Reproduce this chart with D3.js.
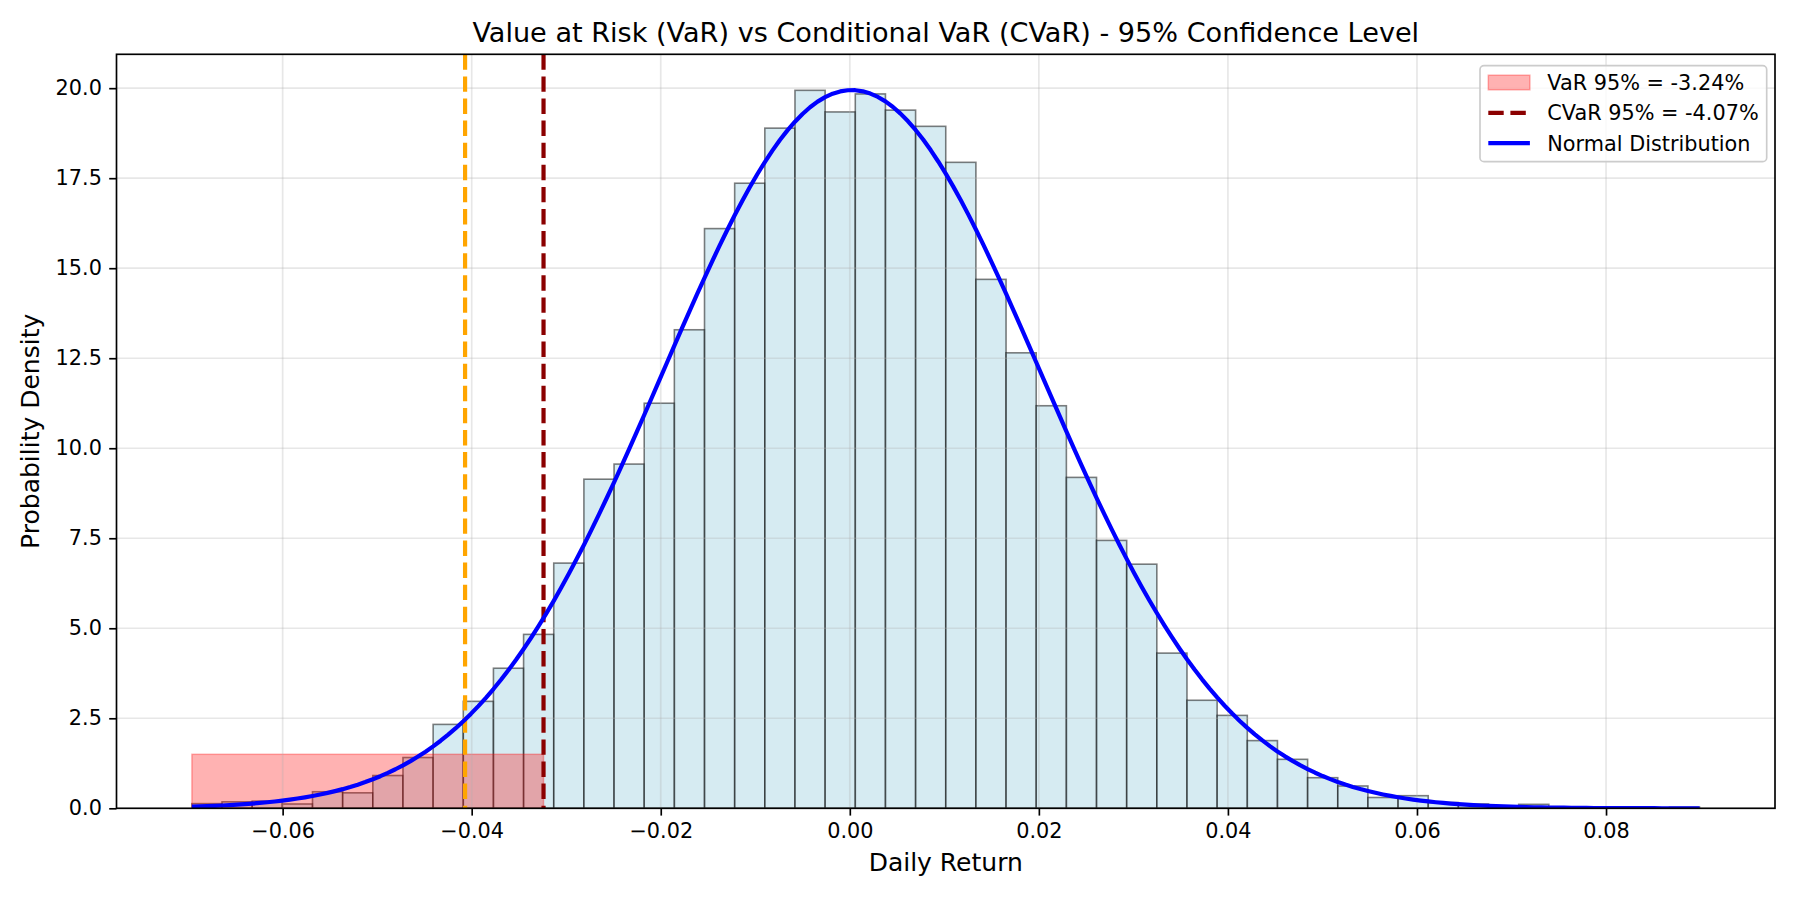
<!DOCTYPE html>
<html>
<head>
<meta charset="utf-8">
<script src="https://cdn.jsdelivr.net/npm/d3@7"></script>
<style>
  body { margin: 0; background: #ffffff; }
  svg { display: block; }
  text { font-family: "DejaVu Sans", sans-serif; fill: #000; }
</style>
</head>
<body>
<svg id="chart" width="1800" height="900"></svg>
<script>
// ---------------- data ----------------
const densityValues = [
  0.13, 0.18, 0.20, 0.12, 0.46, 0.43, 0.91, 1.41, 2.33, 2.97,
  3.89, 4.83, 6.81, 9.14, 9.56, 11.25, 13.29, 16.10, 17.36, 18.89,
  19.94, 19.34, 19.84, 19.39, 18.94, 17.94, 14.69, 12.65, 11.18, 9.19,
  7.44, 6.78, 4.31, 3.00, 2.58, 1.88, 1.36, 0.85, 0.62, 0.30,
  0.35, 0.16, 0.12, 0.06, 0.11, 0.03, 0.03, 0.00, 0.00, 0.03
];
const returnMin = -0.0696;
const returnMax = 0.0899;
const normalMean = 0.0002;
const normalStd = 0.0200;
const varLevel = -0.0324;
const cvarLevel = -0.0407;
const tailBandHeight = 1.5;
const xTickValues = [-0.06, -0.04, -0.02, 0.00, 0.02, 0.04, 0.06, 0.08];
const yTickValues = [0, 2.5, 5, 7.5, 10, 12.5, 15, 17.5, 20];
const legendLabels = ["VaR 95% = -3.24%", "CVaR 95% = -4.07%", "Normal Distribution"];
const titleText = "Value at Risk (VaR) vs Conditional VaR (CVaR) - 95% Confidence Level";
const xLabelText = "Daily Return";
const yLabelText = "Probability Density";

// ---------------- layout ----------------
const svg = d3.select("#chart");
const plot = { left: 116.5, right: 1775, top: 54.3, bottom: 808.3 };
const binCount = densityValues.length;
const binWidth = (returnMax - returnMin) / binCount;
const bins = densityValues.map((d, i) => ({
  x0: returnMin + i * binWidth,
  x1: returnMin + (i + 1) * binWidth,
  value: d
}));

const span = returnMax - returnMin;
const x = d3.scaleLinear()
  .domain([returnMin - 0.05 * span, returnMax + 0.05 * span])
  .range([plot.left, plot.right]);

// normal curve from its parameters
const curvePts = d3.range(0, 201).map(i => {
  const v = returnMin + (span * i) / 200;
  const z = (v - normalMean) / normalStd;
  return { x: v, y: Math.exp(-0.5 * z * z) / (normalStd * Math.sqrt(2 * Math.PI)) };
});
const maxY = Math.max(d3.max(densityValues), d3.max(curvePts, d => d.y));
const y = d3.scaleLinear().domain([0, 1.05 * maxY]).range([plot.bottom, plot.top]);

svg.append("rect").attr("width", 1800).attr("height", 900).attr("fill", "#ffffff");

// clip
svg.append("defs").append("clipPath").attr("id", "clip")
  .append("rect").attr("x", plot.left).attr("y", plot.top)
  .attr("width", plot.right - plot.left).attr("height", plot.bottom - plot.top);
const g = svg.append("g").attr("clip-path", "url(#clip)");

// histogram bars
g.append("g").selectAll("rect").data(bins).join("rect")
  .attr("x", d => x(d.x0))
  .attr("y", d => y(d.value))
  .attr("width", d => x(d.x1) - x(d.x0))
  .attr("height", d => y(0) - y(d.value))
  .attr("fill", "rgba(173,216,230,0.5)")
  .attr("stroke", "rgba(0,0,0,0.5)")
  .attr("stroke-width", 1.6);

// VaR tail band
g.append("rect")
  .attr("x", x(returnMin))
  .attr("y", y(tailBandHeight))
  .attr("width", x(varLevel) - x(returnMin))
  .attr("height", y(0) - y(tailBandHeight))
  .attr("fill", "rgba(255,0,0,0.3)")
  .attr("stroke", "rgba(255,0,0,0.3)")
  .attr("stroke-width", 1.5);

// grid
const grid = g.append("g").attr("stroke", "rgba(176,176,176,0.3)").attr("stroke-width", 1.67);
grid.selectAll("line.gx").data(xTickValues).join("line").attr("class", "gx")
  .attr("x1", d => x(d)).attr("x2", d => x(d))
  .attr("y1", plot.top).attr("y2", plot.bottom);
grid.selectAll("line.gy").data(yTickValues).join("line").attr("class", "gy")
  .attr("x1", plot.left).attr("x2", plot.right)
  .attr("y1", d => y(d)).attr("y2", d => y(d));

// vertical dashed lines
g.append("line")
  .attr("x1", x(cvarLevel)).attr("x2", x(cvarLevel))
  .attr("y1", plot.top).attr("y2", plot.bottom)
  .attr("stroke", "#ffa500").attr("stroke-width", 4.2)
  .attr("stroke-dasharray", "15.4,6.7");
g.append("line")
  .attr("x1", x(varLevel)).attr("x2", x(varLevel))
  .attr("y1", plot.top).attr("y2", plot.bottom)
  .attr("stroke", "#8b0000").attr("stroke-width", 4.2)
  .attr("stroke-dasharray", "15.4,6.7");

// normal curve
g.append("path").datum(curvePts)
  .attr("d", d3.line().x(d => x(d.x)).y(d => y(d.y)))
  .attr("fill", "none").attr("stroke", "#0000ff").attr("stroke-width", 4.2)
  .attr("stroke-linejoin", "round").attr("stroke-linecap", "butt");

// axes
const fmtX = v => (v < 0 ? "\u2212" : "") + Math.abs(v).toFixed(2);
const xAxis = svg.append("g").attr("transform", `translate(0,${plot.bottom})`)
  .call(d3.axisBottom(x).tickValues(xTickValues).tickFormat(fmtX).tickSize(7.3).tickPadding(7.3));
const yAxis = svg.append("g").attr("transform", `translate(${plot.left},0)`)
  .call(d3.axisLeft(y).tickValues(yTickValues).tickFormat(d3.format(".1f")).tickSize(7.3).tickPadding(7.3));
[xAxis, yAxis].forEach(a => {
  a.select(".domain").remove();
  a.selectAll(".tick line").attr("stroke", "#000").attr("stroke-width", 1.67);
  a.selectAll(".tick text").attr("font-size", "20.8px").attr("font-family", "DejaVu Sans").attr("fill", "#000");
});

// spines
svg.append("rect")
  .attr("x", plot.left).attr("y", plot.top)
  .attr("width", plot.right - plot.left).attr("height", plot.bottom - plot.top)
  .attr("fill", "none").attr("stroke", "#000").attr("stroke-width", 1.67);

// title and labels
svg.append("text").attr("x", (plot.left + plot.right) / 2).attr("y", 42)
  .attr("text-anchor", "middle").attr("font-size", "27.1px").text(titleText);
svg.append("text").attr("x", (plot.left + plot.right) / 2).attr("y", 871)
  .attr("text-anchor", "middle").attr("font-size", "25px").text(xLabelText);
svg.append("text")
  .attr("transform", `translate(39,${(plot.top + plot.bottom) / 2}) rotate(-90)`)
  .attr("text-anchor", "middle").attr("font-size", "25px").text(yLabelText);

// legend
const lg = svg.append("g");
lg.append("rect").attr("x", 1480).attr("y", 65.7).attr("width", 286.7).attr("height", 96)
  .attr("rx", 4).attr("ry", 4)
  .attr("fill", "rgba(255,255,255,0.8)").attr("stroke", "#cccccc").attr("stroke-width", 1.67);
const rowY = [82.5, 112.8, 143.2];
lg.append("rect").attr("x", 1488.3).attr("y", rowY[0] - 7.3).attr("width", 41.6).attr("height", 14.6)
  .attr("fill", "rgba(255,0,0,0.3)").attr("stroke", "rgba(255,0,0,0.3)").attr("stroke-width", 1.5);
lg.append("line").attr("x1", 1488.3).attr("x2", 1529.9).attr("y1", rowY[1]).attr("y2", rowY[1])
  .attr("stroke", "#8b0000").attr("stroke-width", 4.2).attr("stroke-dasharray", "15.4,6.7");
lg.append("line").attr("x1", 1488.3).attr("x2", 1529.9).attr("y1", rowY[2]).attr("y2", rowY[2])
  .attr("stroke", "#0000ff").attr("stroke-width", 4.2);
lg.selectAll("text.lt").data(legendLabels).join("text").attr("class", "lt")
  .attr("x", 1547.3).attr("y", (d, i) => rowY[i] + 7.3)
  .attr("font-size", "20.8px").text(d => d);
</script>
</body>
</html>
